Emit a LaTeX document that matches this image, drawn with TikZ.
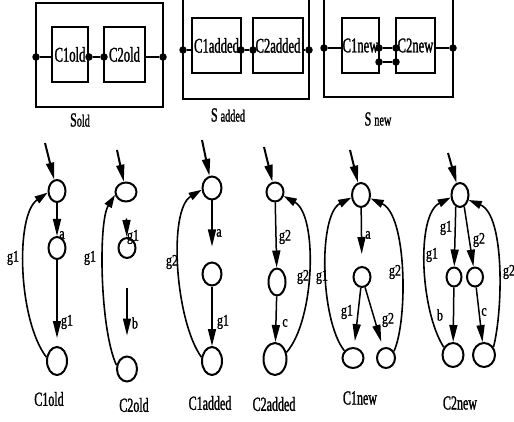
\documentclass[tikz,border=0pt]{standalone}
\usepackage{fontspec}
\setmainfont[FakeStretch=0.6,FakeBold=1.2]{Liberation Serif}
\newfontfamily\edgefont[FakeStretch=0.75,FakeBold=1.2]{Liberation Serif}
\usetikzlibrary{arrows.meta,shapes.geometric}
\begin{document}
\begin{tikzpicture}[x=1pt,y=-1pt,
  st/.style={ellipse,draw,line width=2pt,inner sep=0pt},
  el/.style 2 args={st,minimum width=#1pt,minimum height=#2pt},
  arr/.style={-{Triangle[length=17pt,width=8pt]},line width=1.5pt},
  inarr/.style={-{Triangle[length=17pt,width=8pt]},line width=2pt},
  barr/.style={-{Triangle[length=13pt,width=8pt]},line width=1.6pt},
  elab/.style={font=\edgefont\fontsize{16}{16}\selectfont,inner sep=0pt},
  glab/.style={font=\fontsize{20}{20}\selectfont,inner sep=0pt},
  blab/.style={font=\fontsize{21}{21}\selectfont,inner sep=0pt},
  box/.style={draw,line width=2pt,inner sep=0pt},
  dot/.style={circle,fill,inner sep=0pt,minimum size=7.5pt},
  con/.style={line width=1.8pt}]
\useasboundingbox (0,0) rectangle (514,422);
\clip (0,0) rectangle (514,422);

% ---------- S old ----------
\node[box,minimum width=127pt,minimum height=104pt] (So) at (99.5,55) {};
\node[box,minimum width=36pt,minimum height=55pt,blab] (bo1) at (70,54.5) {C1old};
\node[box,minimum width=41pt,minimum height=55pt,blab] (bo2) at (124.5,54.5) {C2old};
\node[dot] (do1) at (36,57) {};
\node[dot] (do2) at (89,57) {};
\node[dot] (do3) at (104,57) {};
\node[dot] (do4) at (163,57) {};
\draw[con] (do1) -- (do1 -| bo1.west);
\draw[con] (do2) -- (do3);
\draw[con] (do4) -- (do4 -| bo2.east);
\node[inner sep=0pt] (Sol) at (80,120) {\fontsize{20}{20}\selectfont S\fontsize{17}{17}\selectfont old};

% ---------- S added ----------
\node[box,minimum width=126pt,minimum height=109pt] (Sa) at (246,44.5) {};
\node[box,minimum width=49pt,minimum height=55pt,blab] (ba1) at (216.5,45.5) {C1added};
\node[box,minimum width=50pt,minimum height=55pt,blab] (ba2) at (278,45.5) {C2added};
\node[dot] (da1) at (183,50) {};
\node[dot] (da2) at (241,50) {};
\node[dot] (da3) at (253,50) {};
\node[dot] (da4) at (309,50) {};
\draw[con] (da1) -- (da1 -| ba1.west);
\draw[con] (da2) -- (da3);
\draw[con] (da4) -- (da4 -| ba2.east);
\node[inner sep=0pt] (Sal) at (228,115) {\fontsize{20}{20}\selectfont S \fontsize{17}{17}\selectfont added};

% ---------- S new ----------
\node[box,minimum width=129pt,minimum height=107pt] (Sn) at (388.5,43.5) {};
\node[box,minimum width=37pt,minimum height=55pt,blab] (bn1) at (360.5,45.5) {C1new};
\node[box,minimum width=39pt,minimum height=55pt,blab] (bn2) at (415.5,45.5) {C2new};
\node[dot] (dn1) at (324,48) {};
\node[dot] (dn2) at (379,48) {};
\node[dot] (dn3) at (396,48) {};
\node[dot] (dn4) at (379,62) {};
\node[dot] (dn5) at (396,62) {};
\node[dot] (dn6) at (453,48) {};
\draw[con] (dn1) -- (dn1 -| bn1.west);
\draw[con] (dn2) -- (dn3);
\draw[con] (dn4) -- (dn5);
\draw[con] (dn6) -- (dn6 -| bn2.east);
\node[inner sep=0pt] (Snl) at (378,119) {\fontsize{20}{20}\selectfont S \fontsize{17}{17}\selectfont new};

% ---------- C1old ----------
\node[el={17}{22}] (o1a) at (57,191) {};
\node[el={17}{22}] (o1b) at (57,248) {};
\node[el={20}{28}] (o1c) at (57,361) {};
\coordinate (o1s) at (45,143);
\draw[inarr] (o1s) -- (o1a);
\draw[arr] (o1a) -- (o1b);
\draw[arr,shorten >=8pt] (o1b) -- (o1c);
\draw[barr] (o1c.160) .. controls (18,320) and (15,215) .. (o1a.190);
\node[elab] (lo1a) at (62,235) {a};
\node[elab] (lo1b) at (67,322) {g1};
\node[elab] (lo1c) at (13,258) {g1};
\node[glab] (to1) at (49,399) {C1old};

% ---------- C2old ----------
\node[el={21}{19}] (o2a) at (126,192) {};
\node[el={17}{20}] (o2b) at (127,248) {};
\node[el={20}{25}] (o2c) at (127,369) {};
\coordinate (o2s) at (117,150);
\draw[inarr] (o2s) -- (o2a);
\draw[arr,shorten <=16pt] (o2a) -- (o2b);
\draw[arr,shorten <=29pt,shorten >=20pt] (o2b) -- (o2c);
\draw[barr] (o2c.160) .. controls (100,330) and (98,222) .. (o2a.195);
\node[elab] (lo2a) at (133,237) {g1};
\node[elab] (lo2b) at (135,323) {b};
\node[elab] (lo2c) at (90,258) {g1};
\node[glab] (to2) at (134,405) {C2old};

% ---------- C1added ----------
\node[el={19}{23}] (a1a) at (212,188) {};
\node[el={19}{23}] (a1b) at (212,274) {};
\node[el={20}{28}] (a1c) at (212,361) {};
\coordinate (a1s) at (202,140);
\draw[inarr] (a1s) -- (a1a);
\draw[arr,shorten >=15pt] (a1a) -- (a1b);
\draw[arr] (a1b) -- (a1c);
\draw[barr] (a1c.160) .. controls (175,320) and (168,210) .. (a1a.190);
\node[elab] (la1a) at (219,233) {a};
\node[elab] (la1b) at (223,322) {g1};
\node[elab] (la1c) at (172,262) {g2};
\node[glab] (ta1) at (210,403) {C1added};

% ---------- C2added ----------
\node[el={17}{19}] (a2a) at (275,192) {};
\node[el={17}{27}] (a2b) at (277,282) {};
\node[el={23}{32}] (a2c) at (275,359) {};
\coordinate (a2s) at (264,147);
\draw[inarr] (a2s) -- (a2a);
\draw[arr] (a2a) -- (a2b);
\draw[arr] (a2b) -- (a2c);
\draw[barr] (a2c.30) .. controls (315,320) and (318,215) .. (a2a.335);
\node[elab] (la2a) at (285,237) {g2};
\node[elab] (la2b) at (285,323) {c};
\node[elab] (la2c) at (303,277) {g2};
\node[glab] (ta2) at (274,404) {C2added};

% ---------- C1new ----------
\node[el={18}{24}] (n1a) at (361,195) {};
\node[el={17}{20}] (n1b) at (362,277) {};
\node[el={21}{20}] (n1c) at (353,358) {};
\node[el={18}{20}] (n1d) at (386,358) {};
\coordinate (n1s) at (350,150);
\draw[inarr] (n1s) -- (n1a);
\draw[arr,shorten >=12pt] (n1a) -- (n1b);
\draw[arr,shorten >=6pt] (n1b) -- (n1c);
\draw[arr,shorten >=6pt] (n1b) -- (n1d);
\draw[barr] (n1c.140) .. controls (320,320) and (318,215) .. (n1a.195);
\draw[barr] (n1d.40) .. controls (408,320) and (407,215) .. (n1a.340);
\node[elab] (ln1a) at (368,235) {a};
\node[elab] (ln1b) at (347,312) {g1};
\node[elab] (ln1c) at (388,320) {g2};
\node[elab] (ln1d) at (322,277) {g1};
\node[elab] (ln1e) at (395,272) {g2};
\node[glab] (tn1) at (360,398) {C1new};

% ---------- C2new ----------
\node[el={17}{24}] (n2a) at (460,195) {};
\node[el={15}{19}] (n2b) at (454,277) {};
\node[el={16}{19}] (n2c) at (475,277) {};
\node[el={21}{24}] (n2d) at (453,355) {};
\node[el={22}{24}] (n2e) at (484,355) {};
\coordinate (n2s) at (448,153);
\draw[inarr] (n2s) -- (n2a);
\draw[arr] (n2a.250) -- (n2b);
\draw[arr] (n2a.290) -- (n2c);
\draw[arr] (n2b) -- (n2d);
\draw[arr] (n2c) -- (n2e);
\draw[barr] (n2d.140) .. controls (420,310) and (416,215) .. (n2a.195);
\draw[barr] (n2e.40) .. controls (503,310) and (505,215) .. (n2a.330);
\node[elab] (ln2a) at (446,228) {g1};
\node[elab] (ln2b) at (479,240) {g2};
\node[elab] (ln2c) at (440,315) {b};
\node[elab] (ln2d) at (484,312) {c};
\node[elab] (ln2e) at (432,255) {g1};
\node[elab] (ln2f) at (509,272) {g2};
\node[glab] (tn2) at (460,403) {C2new};
\end{tikzpicture}
\end{document}
